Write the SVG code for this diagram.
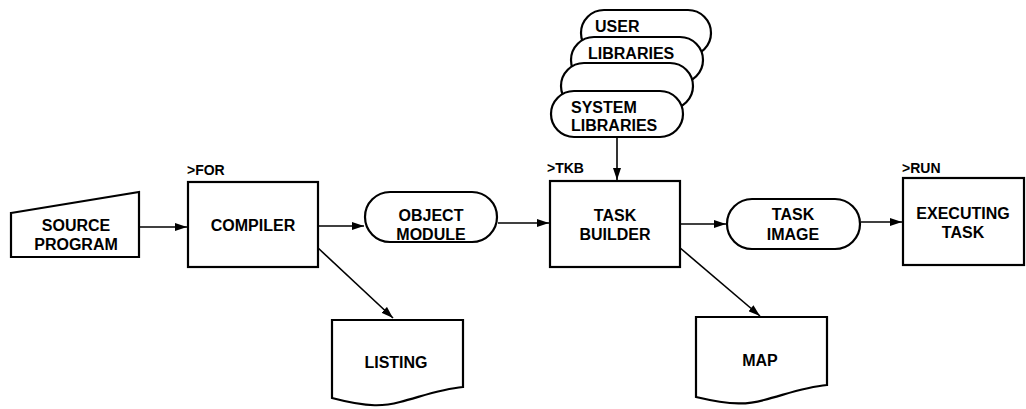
<svg xmlns="http://www.w3.org/2000/svg" width="1026" height="409" viewBox="0 0 1026 409">
<defs>
<marker id="ah" viewBox="0 0 12 8" refX="12" refY="4" markerWidth="12" markerHeight="8" markerUnits="userSpaceOnUse" orient="auto">
<path d="M0,0 L12,4 L0,8 Z" fill="#000"/>
</marker>
<style>
.s{fill:#fff;stroke:#000;stroke-width:2.2}
.t{font-family:"Liberation Sans",Arial,sans-serif;font-weight:bold;font-size:16px;fill:#000;text-anchor:middle}
.ts{font-family:"Liberation Sans",Arial,sans-serif;font-weight:bold;font-size:16px;fill:#000}
.c{font-family:"Liberation Sans",Arial,sans-serif;font-weight:bold;font-size:14px;fill:#000}
.e{fill:none;stroke:#000;stroke-width:1.6;marker-end:url(#ah)}
</style>
</defs>
<rect width="1026" height="409" fill="#fff"/>
<g id="connectors">
<line class="e" x1="139" y1="227" x2="187" y2="227"/>
<line class="e" x1="319" y1="226" x2="364" y2="226"/>
<line class="e" x1="498" y1="223" x2="549" y2="223"/>
<line class="e" x1="617" y1="138" x2="617" y2="180"/>
<line class="e" x1="681" y1="224" x2="726" y2="224"/>
<line class="e" x1="861" y1="222" x2="902" y2="222"/>
<line class="e" x1="317" y1="247" x2="393" y2="318"/>
<line class="e" x1="679" y1="247" x2="760" y2="316"/>
</g>
<g id="source-program">
<path class="s" d="M11,213 L139,192 L139,257 L11,257 Z"/>
<text class="t" x="76" y="231">SOURCE</text>
<text class="t" x="76" y="250">PROGRAM</text>
</g>
<g id="compiler">
<text class="c" x="187" y="175">&gt;FOR</text>
<rect class="s" x="188" y="182" width="130" height="85"/>
<text class="t" x="253" y="231">COMPILER</text>
</g>
<g id="object-module">
<rect class="s" x="365" y="192" width="132" height="50" rx="25"/>
<text class="t" x="431" y="221">OBJECT</text>
<text class="t" x="431" y="240">MODULE</text>
</g>
<g id="libraries">
<rect class="s" x="581" y="10" width="130" height="46" rx="23"/>
<rect class="s" x="571" y="37" width="132" height="46" rx="23"/>
<rect class="s" x="561" y="63" width="132" height="46" rx="23"/>
<rect class="s" x="551" y="91" width="132" height="46" rx="23"/>
<text class="ts" x="595" y="32">USER</text>
<text class="ts" x="588" y="59">LIBRARIES</text>
<text class="ts" x="571" y="113">SYSTEM</text>
<text class="ts" x="571" y="131">LIBRARIES</text>
</g>
<g id="task-builder">
<text class="c" x="547" y="173">&gt;TKB</text>
<rect class="s" x="550" y="181" width="130" height="86"/>
<text class="t" x="615" y="221">TASK</text>
<text class="t" x="615" y="240">BUILDER</text>
</g>
<g id="task-image">
<rect class="s" x="727" y="199" width="133" height="50" rx="25"/>
<text class="t" x="793" y="220">TASK</text>
<text class="t" x="793" y="240">IMAGE</text>
</g>
<g id="executing-task">
<text class="c" x="902" y="173">&gt;RUN</text>
<rect class="s" x="903" y="178" width="121" height="87"/>
<text class="t" x="963" y="219">EXECUTING</text>
<text class="t" x="963" y="238">TASK</text>
</g>
<g id="listing">
<path class="s" d="M332,320 H463 V387 C440,389 420,397 400,402 C385,406 370,408 332,398 Z"/>
<text class="t" x="396" y="368">LISTING</text>
</g>
<g id="map">
<path class="s" d="M696,317 H827 V385 C804,387 784,395 764,400 C749,404 734,406 696,397 Z"/>
<text class="t" x="760" y="366">MAP</text>
</g>
</svg>
